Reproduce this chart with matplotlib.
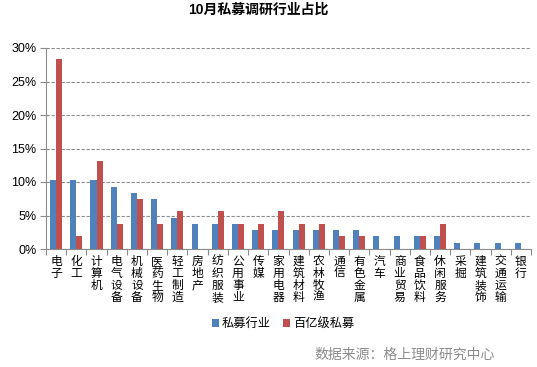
import matplotlib
matplotlib.use("Agg")
import matplotlib.pyplot as plt
import numpy as np
from matplotlib.ticker import FuncFormatter

plt.rcParams['font.family'] = ['Liberation Sans', 'Noto Sans CJK SC', 'DejaVu Sans']

# ===============================
# Data
# ===============================
industries = ['电子', '化工', '计算机', '电气设备', '机械设备', '医药生物', '轻工制造',
              '房地产', '纺织服装', '公用事业', '传媒', '家用电器', '建筑材料', '农林牧渔',
              '通信', '有色金属', '汽车', '商业贸易', '食品饮料', '休闲服务', '采掘',
              '建筑装饰', '交通运输', '银行']
private_all = [10.3, 10.3, 10.3, 9.3, 8.4, 7.5, 4.7, 3.7, 3.7, 3.7, 2.8, 2.8,
               2.8, 2.8, 2.8, 2.8, 1.9, 1.9, 1.9, 1.9, 0.9, 0.9, 0.9, 0.9]
private_10b = [28.3, 1.9, 13.2, 3.8, 7.5, 3.8, 5.7, 0, 5.7, 3.8, 3.8, 5.7,
               3.8, 3.8, 1.9, 1.9, 0, 0, 1.9, 3.8, 0, 0, 0, 0]
series_names = ['私募行业', '百亿级私募']
colors = ['#4F81BD', '#C0504D']

# ===============================
# Figure
# ===============================
fig = plt.figure(figsize=(5.37, 3.67), dpi=100)
ax = fig.add_axes([46 / 537, 1 - 249 / 367, (531 - 46) / 537, (249 - 48) / 367])

x = np.arange(len(industries))
w = 0.3
ax.bar(x - w / 2, private_all, w, color=colors[0], label=series_names[0], zorder=3)
ax.bar(x + w / 2, private_10b, w, color=colors[1], label=series_names[1], zorder=3)

ax.set_xlim(-0.5, len(industries) - 0.5)
ax.set_ylim(0, 30)
ax.set_yticks(np.arange(0, 31, 5))
ax.yaxis.set_major_formatter(FuncFormatter(lambda v, p: f'{int(v)}%'))
ax.yaxis.grid(True, linestyle=(0, (3, 1.5)), color='#8c8c8c', linewidth=0.8, zorder=0)

# category boundary ticks on the x axis
ax.set_xticks(np.arange(-0.5, len(industries), 1))
ax.set_xticklabels([])
ax.set_xticks(x, minor=True)
ax.set_xticklabels(['\n'.join(s) for s in industries], minor=True,
                   fontsize=8.5, linespacing=1.0, va='top')
ax.tick_params(axis='x', which='minor', length=0, pad=5)
ax.tick_params(axis='x', which='major', length=4, color='#8c8c8c')
ax.tick_params(axis='y', length=4, color='#8c8c8c', labelsize=9, pad=3)

for side in ['top', 'right']:
    ax.spines[side].set_visible(False)
for side in ['left', 'bottom']:
    ax.spines[side].set_color('#8c8c8c')

fig.text(258 / 537, 1 - 10 / 367, '10月私募调研行业占比', ha='center', va='center',
         fontsize=10, fontweight='bold')

fig.legend(loc='center', bbox_to_anchor=(283 / 537, 1 - 324 / 367), ncol=2,
           frameon=False, fontsize=8.8, handlelength=0.6, handleheight=0.6,
           handletextpad=0.2, columnspacing=1.0)

fig.text(405 / 537, 1 - 355 / 367, '数据来源：格上理财研究中心', ha='center', va='center',
         fontsize=10, color='#8c8c8c')

fig.savefig('out.png', dpi=100)
